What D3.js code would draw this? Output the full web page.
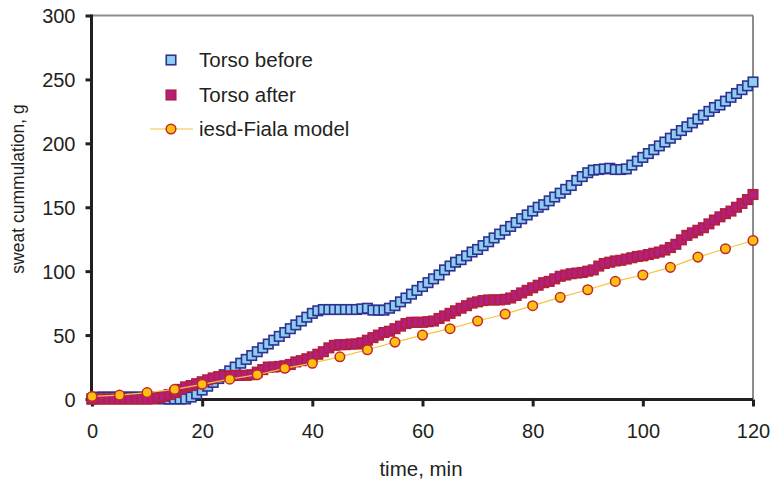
<!DOCTYPE html>
<html>
<head>
<meta charset="utf-8">
<script src="https://cdn.jsdelivr.net/npm/d3@7"></script>
<style>
  html, body { margin: 0; padding: 0; background: #fff; }
  svg { display: block; font-family: "Liberation Sans", Arial, sans-serif; }
</style>
</head>
<body>
<svg id="chart" width="772" height="481"></svg>
<script>
// Sampling times (minutes) of the measured torso sweat
const sampleMinutes = [
  0,1,2,3,4,5,6,7,8,9,10,11,12,13,14,15,16,17,18,19,20,
  21,22,23,24,25,26,27,28,29,30,31,32,33,34,35,36,37,38,39,40,
  41,42,43,44,45,46,47,48,49,50,51,52,53,54,55,56,57,58,59,60,
  61,62,63,64,65,66,67,68,69,70,71,72,73,74,75,76,77,78,79,80,
  81,82,83,84,85,86,87,88,89,90,91,92,93,94,95,96,97,98,99,100,
  101,102,103,104,105,106,107,108,109,110,111,112,113,114,115,116,117,118,119,120
];

// Cumulative sweat (g), torso, before
const torsoBefore = [
  0,1.5,1.5,1.5,1.5,1.5,1.5,1.5,1.5,1.5,1.5,1.5,0.5,0,0,0,0,0,1.5,4,7,
  10,13,16,19,22,25,28,31,34,37,40,43,46,49,52,55,58,61,64,67,
  69,70,70,70,70,70,70,70,70.5,71,69.5,69.5,69.5,71,73,76,79,82,85,88,
  91,94,97,101,104,107,109,112,115,117,120,123,126,129,132,135,138,141,144,147,
  150,152,155,158,161,164,167,171,174,177,179,179.5,180,180.5,179.5,179.5,180,183,186,189,
  192,195,198,201,204,207,210,213,216,219,222,225,228,230,233,236,239,242,245,248
];

// Cumulative sweat (g), torso, after
const torsoAfter = [
  0,0,0,0,0,0,0,0,0,0,0,0,1,2,3.5,5,7.5,9.5,10.5,12,13.5,
  15,16.5,17.5,18,18,18.5,18.5,18.5,19,21,23,25,25,25.5,26,27,29,30,31.5,33,
  35,37,40,42,42.5,42.5,43,43,44,46,48,50,52,53,55,57,59,60,60,60,
  60.5,61,63,65,67,69,71,73,75,76,77,77.5,77.5,77.5,78,79,81,83,85,87,
  89,91,92,94,96,97,98,98.5,99,100,101,104,106,107,108,108.5,109.5,110.5,111.5,112,
  113,114,115,116.5,118.5,121,124.5,128,130,132,134,137,140,142.5,145,147,150,153,156,160
];

// Model prediction every 5 minutes
const modelMinutes = [0,5,10,15,20,25,30,35,40,45,50,55,60,65,70,75,80,85,90,95,100,105,110,115,120];
const modelValues  = [2,3,5,7.5,11.5,15.5,19,24,28,33,38.5,44.5,50,55,61,66.5,73,79.5,85.5,92,97,103,111,117.5,124];

const xTicks = [0,20,40,60,80,100,120];
const yTicks = [0,50,100,150,200,250,300];
const seriesNames = ["Torso before", "Torso after", "iesd-Fiala model"];
const xTitle = "time, min";
const yTitle = "sweat cummulation, g";

const svg = d3.select("#chart");
const plotLeft = 92, plotRight = 753, plotTop = 15.5, plotBottom = 399;

const x = d3.scaleLinear().domain([0, 120]).range([plotLeft, plotRight]);
const y = d3.scaleLinear().domain([0, 300]).range([plotBottom, plotTop]);

const ink = "#231f20";

// plot frame: grey top and right edges
svg.append("line").attr("x1", plotLeft).attr("x2", plotRight).attr("y1", plotTop).attr("y2", plotTop)
  .attr("stroke", "#8c8c8c").attr("stroke-width", 2);
svg.append("line").attr("x1", plotRight).attr("x2", plotRight).attr("y1", plotTop).attr("y2", plotBottom)
  .attr("stroke", "#666").attr("stroke-width", 1.5);

// y axis
const yAxis = svg.append("g").attr("transform", `translate(${plotLeft - 0.5},0)`)
  .call(d3.axisLeft(y).tickValues(yTicks).tickSize(6).tickSizeOuter(0).tickPadding(10));
yAxis.select(".domain").attr("stroke", ink).attr("stroke-width", 3)
  .attr("d", `M0,${plotTop - 1}V${plotBottom + 1.5}`);
yAxis.selectAll(".tick line").attr("stroke", ink).attr("stroke-width", 3);
yAxis.selectAll(".tick text").attr("fill", ink).style("font-size", "20px")
  .attr("font-family", null).attr("dy", "0.35em");

// x axis
const xAxis = svg.append("g").attr("transform", `translate(0,${plotBottom + 0.5})`)
  .call(d3.axisBottom(x).tickValues(xTicks).tickSize(7).tickSizeOuter(0).tickPadding(17));
xAxis.select(".domain").attr("stroke", ink).attr("stroke-width", 3)
  .attr("d", `M${plotLeft - 2},0H${plotRight}`);
xAxis.selectAll(".tick line").attr("stroke", ink).attr("stroke-width", 3);
xAxis.selectAll(".tick text").attr("fill", ink).style("font-size", "20px")
  .attr("font-family", null);

// axis titles
svg.append("text").attr("x", 421).attr("y", 476).attr("text-anchor", "middle")
  .attr("fill", ink).style("font-size", "20.5px").text(xTitle);
svg.append("text").attr("transform", "translate(24,189) rotate(-90)").attr("text-anchor", "middle")
  .attr("fill", ink).style("font-size", "17.5px").text(yTitle);

// marker styles
const sq = 9.5;
const beforeStyle = { fill: "#8dcdee", stroke: "#2e3192" };
const afterStyle = { fill: "#b21f80", stroke: "#b3203c" };
const modelStyle = { fill: "#fdc010", stroke: "#c0282d", line: "#f7c23c" };

function squares(g, xs, ys, st) {
  g.selectAll("rect").data(xs.map((m, i) => [m, ys[i]])).join("rect")
    .attr("x", d => x(d[0]) - sq / 2).attr("y", d => y(d[1]) - sq / 2)
    .attr("width", sq).attr("height", sq)
    .attr("fill", st.fill).attr("stroke", st.stroke).attr("stroke-width", 1.6);
}

squares(svg.append("g"), sampleMinutes, torsoBefore, beforeStyle);
squares(svg.append("g"), sampleMinutes, torsoAfter, afterStyle);

const modelPts = modelMinutes.map((m, i) => [m, modelValues[i]]);
svg.append("path").datum(modelPts)
  .attr("d", d3.line().x(d => x(d[0])).y(d => y(d[1])))
  .attr("fill", "none").attr("stroke", modelStyle.line).attr("stroke-width", 1.2);
svg.append("g").selectAll("circle").data(modelPts).join("circle")
  .attr("cx", d => x(d[0])).attr("cy", d => y(d[1])).attr("r", 4.8)
  .attr("fill", modelStyle.fill).attr("stroke", modelStyle.stroke).attr("stroke-width", 1.5);

// legend
const legend = svg.append("g");
const lx = 171, textX = 199, rows = [60, 95, 129];
[beforeStyle, afterStyle].forEach((st, i) => {
  legend.append("rect").attr("x", lx - sq / 2).attr("y", rows[i] - sq / 2)
    .attr("width", sq).attr("height", sq)
    .attr("fill", st.fill).attr("stroke", st.stroke).attr("stroke-width", 1.6);
});
legend.append("line").attr("x1", 150).attr("x2", 193).attr("y1", rows[2]).attr("y2", rows[2])
  .attr("stroke", modelStyle.line).attr("stroke-width", 1.2);
legend.append("circle").attr("cx", lx).attr("cy", rows[2]).attr("r", 4.8)
  .attr("fill", modelStyle.fill).attr("stroke", modelStyle.stroke).attr("stroke-width", 1.5);
seriesNames.forEach((name, i) => {
  legend.append("text").attr("x", textX).attr("y", rows[i]).attr("dy", "0.35em")
    .attr("fill", ink).style("font-size", "20.5px").text(name);
});
</script>
</body>
</html>
